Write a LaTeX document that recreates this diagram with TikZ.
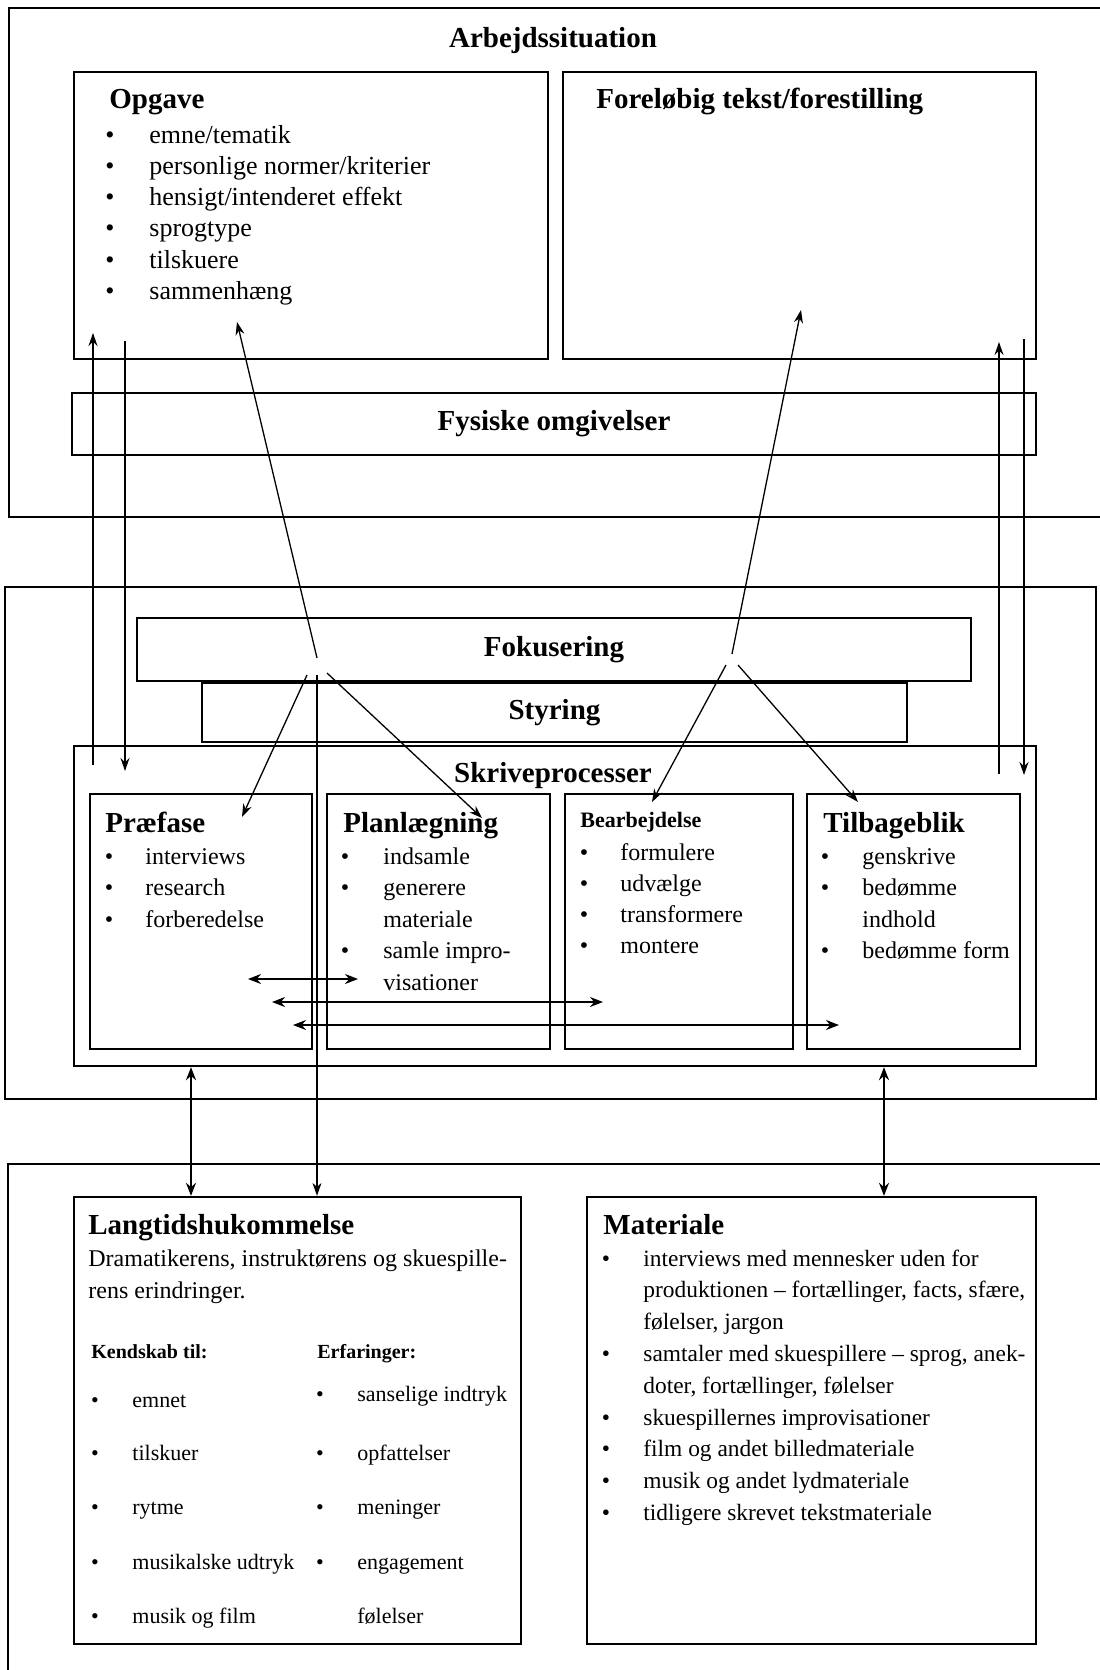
\documentclass[tikz,border=0pt]{standalone}
\usepackage{fontspec}
\setmainfont{Liberation Serif}
\usetikzlibrary{arrows.meta, positioning, fit}

\tikzset{
  boks/.style={draw, line width=1.15pt, inner sep=0pt},
  overskrift/.style={font=\bfseries\fontsize{14.5}{17}\selectfont},
  titel/.style={overskrift, inner sep=0pt, anchor=base west},
  punkt/.style={inner sep=0pt, anchor=base},
  tekst/.style={inner sep=0pt, anchor=base west},
  pil/.style={-{Stealth[length=6.5pt,width=4.5pt]}, line width=0.65pt},
  dobbeltpil/.style={{Stealth[length=6.5pt,width=5pt]}-{Stealth[length=6.5pt,width=5pt]}, line width=1pt},
}

\begin{document}
\begin{tikzpicture}[x=0.5pt, y=-0.5pt, font=\fontsize{12}{14}\selectfont]
\useasboundingbox (0,0) rectangle (1099,1670);

\node[boks, fit={(9,8) (1104,517)}] (arbejde) {};
\node[titel, anchor=base] (arbejdetitel) at (553,47) {Arbejdssituation};
\node[boks, fit={(74,72) (548,359)}] (opgave) {};
\node[titel] (opgavetitel) at (109,108) {Opgave};
\foreach \t [count=\i from 0] in {emne/tematik, personlige normer/kriterier, hensigt/intenderet effekt, sprogtype, tilskuere, sammenhæng} {
  \node[punkt, font=\fontsize{13}{15}\selectfont] (opgaveb\i) at (110,{143+31.3*\i}) {\textbullet};
  \node[tekst, font=\fontsize{13}{15}\selectfont] (opgavet\i) at (149,{143+31.3*\i}) {\t};
}
\node[boks, fit={(563,72) (1036,359)}] (forelobig) {};
\node[titel] (forelobigtitel) at (596,108) {Foreløbig tekst/forestilling};
\node[boks, fit={(72,393) (1036,455)}] (fysiske) {};
\node[overskrift] (fysisketekst) at (fysiske.center) {Fysiske omgivelser};

\node[boks, fit={(5,587) (1096,1099)}] (midte) {};
\node[boks, fit={(137,618) (971,681)}] (fokus) {};
\node[overskrift] (fokustekst) at (fokus.center) {Fokusering};
\node[boks, fit={(202,683) (907,742)}] (styring) {};
\node[overskrift] (styringtekst) at (styring.center) {Styring};
\node[boks, fit={(74,746) (1036,1066)}] (skrive) {};
\node[titel, anchor=base] (skrivetitel) at (553,782) {Skriveprocesser};

\node[boks, fit={(90,794) (312,1049)}] (praefase) {};
\node[titel] (praefasetitel) at (105,832) {Præfase};
\foreach \t [count=\i from 0] in {interviews, research, forberedelse} {
  \node[punkt] (praefaseb\i) at (109,{864+31.5*\i}) {\textbullet};
  \node[tekst] (praefaset\i) at (145,{864+31.5*\i}) {\t};
}
\node[boks, fit={(327,794) (550,1049)}] (plan) {};
\node[titel] (plantitel) at (343,832) {Planlægning};
\foreach \b/\t [count=\i from 0] in {1/indsamle, 1/generere, 0/materiale, 1/samle impro-, 0/visationer} {
  \ifnum\b=1 \node[punkt] (planb\i) at (345,{864+31.5*\i}) {\textbullet}; \fi
  \node[tekst] (plant\i) at (383,{864+31.5*\i}) {\t};
}
\node[boks, fit={(565,794) (793,1049)}] (bearb) {};
\node[tekst, font=\bfseries\fontsize{11}{13}\selectfont] (bearbtitel) at (580,827) {Bearbejdelse};
\foreach \t [count=\i from 0] in {formulere, udvælge, transformere, montere} {
  \node[punkt] (bearbb\i) at (584,{860+31.2*\i}) {\textbullet};
  \node[tekst] (bearbt\i) at (620,{860+31.2*\i}) {\t};
}
\node[boks, fit={(807,794) (1020,1049)}] (tilbage) {};
\node[titel] (tilbagetitel) at (823,832) {Tilbageblik};
\foreach \b/\t [count=\i from 0] in {1/genskrive, 1/bedømme, 0/indhold, 1/bedømme form} {
  \ifnum\b=1 \node[punkt] (tilbageb\i) at (825,{864+31.5*\i}) {\textbullet}; \fi
  \node[tekst] (tilbaget\i) at (862,{864+31.5*\i}) {\t};
}

\node[boks, fit={(8,1164) (1104,1680)}] (nederst) {};
\node[boks, fit={(74,1197) (521,1644)}] (langtid) {};
\node[titel] (langtidtitel) at (88,1234) {Langtidshukommelse};
\node[tekst] (drama1) at (88,1266) {Dramatikerens, instruktørens og skuespille-};
\node[tekst] (drama2) at (88,1298) {rens erindringer.};
\node[tekst, font=\bfseries\fontsize{10}{12}\selectfont] (kendskab) at (91,1358) {Kendskab til:};
\node[tekst, font=\bfseries\fontsize{10}{12}\selectfont] (erfaring) at (317,1358) {Erfaringer:};
\foreach \y/\t [count=\i] in {1407/emnet, 1460/tilskuer, 1514/rytme, 1569/musikalske udtryk, 1623/musik og film} {
  \node[punkt, font=\fontsize{11}{13}\selectfont] (kendb\i) at (95,\y) {\textbullet};
  \node[tekst, font=\fontsize{11}{13}\selectfont] (kendt\i) at (132,\y) {\t};
}
\foreach \b/\y/\t [count=\i] in {1/1401/sanselige indtryk, 1/1460/opfattelser, 1/1514/meninger, 1/1569/engagement, 0/1623/følelser} {
  \ifnum\b=1 \node[punkt, font=\fontsize{11}{13}\selectfont] (erfb\i) at (320,\y) {\textbullet}; \fi
  \node[tekst, font=\fontsize{11}{13}\selectfont] (erft\i) at (357,\y) {\t};
}
\node[boks, fit={(587,1197) (1036,1644)}] (materiale) {};
\node[titel] (materialetitel) at (603,1234) {Materiale};
\foreach \b/\t [count=\i from 0] in {1/interviews med mennesker uden for, 0/{produktionen -- fortællinger, facts, sfære,}, 0/{følelser, jargon}, 1/{samtaler med skuespillere -- sprog, anek-}, 0/{doter, fortællinger, følelser}, 1/skuespillernes improvisationer, 1/film og andet billedmateriale, 1/musik og andet lydmateriale, 1/tidligere skrevet tekstmateriale} {
  \ifnum\b=1 \node[punkt, font=\fontsize{11.7}{14}\selectfont] (matb\i) at (606,{1266+31.8*\i}) {\textbullet}; \fi
  \node[tekst, font=\fontsize{11.7}{14}\selectfont] (matt\i) at (643,{1266+31.8*\i}) {\t};
}

\coordinate (vop1) at (93,765);
\coordinate (vop2) at (93,333);
\coordinate (vned1) at (125,341);
\coordinate (vned2) at (125,771);
\coordinate (hop1) at (999,774);
\coordinate (hop2) at (999,342);
\coordinate (hned1) at (1024,339);
\coordinate (hned2) at (1024,775);
\draw[pil] (vop1) -- (vop2);
\draw[pil] (vned1) -- (vned2);
\draw[pil] (hop1) -- (hop2);
\draw[pil] (hned1) -- (hned2);

\coordinate (vk1) at (317,658);
\coordinate (vk2) at (307,675);
\coordinate (vk3) at (317,675);
\coordinate (vk4) at (327,673);
\coordinate (opgmaal) at (237,322);
\coordinate (praemaal) at (242,817);
\coordinate (planmaal) at (482,818);
\draw[pil] (vk1) -- (opgmaal);
\draw[pil] (vk2) -- (praemaal);
\draw[pil] (vk4) -- (planmaal);
\draw[pil] (vk3) -- (langtid.north -| vk3);

\coordinate (hk1) at (732,654);
\coordinate (hk2) at (726,665);
\coordinate (hk3) at (738,665);
\coordinate (foremaal) at (801,310);
\coordinate (bearbmaal) at (652,802);
\coordinate (tilbmaal) at (858,802);
\draw[pil] (hk1) -- (foremaal);
\draw[pil] (hk2) -- (bearbmaal);
\draw[pil] (hk3) -- (tilbmaal);

\coordinate (vforb) at (191,1066);
\coordinate (hforb) at (884,1066);
\draw[dobbeltpil] (skrive.south -| vforb) -- (langtid.north -| vforb);
\draw[dobbeltpil] (skrive.south -| hforb) -- (materiale.north -| hforb);

\coordinate (pil1a) at (248,979);
\coordinate (pil1b) at (358,979);
\coordinate (pil2a) at (272,1002);
\coordinate (pil2b) at (603,1002);
\coordinate (pil3a) at (293,1025);
\coordinate (pil3b) at (839,1025);
\draw[dobbeltpil] (pil1a) -- (pil1b);
\draw[dobbeltpil] (pil2a) -- (pil2b);
\draw[dobbeltpil] (pil3a) -- (pil3b);
\end{tikzpicture}
\end{document}
